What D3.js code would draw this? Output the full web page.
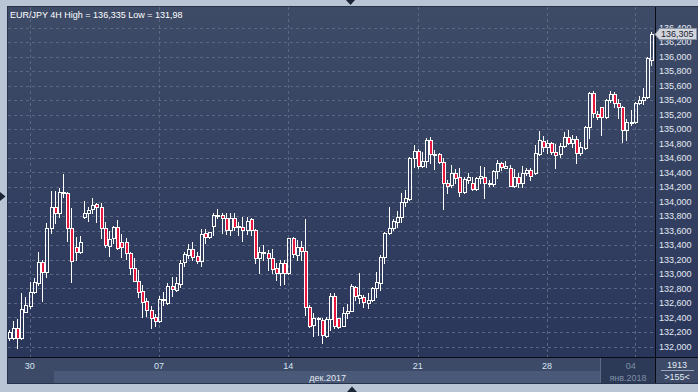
<!DOCTYPE html>
<html><head><meta charset="utf-8">
<script src="https://cdn.jsdelivr.net/npm/d3@7"></script>
<style>html,body{margin:0;padding:0;background:#b9c4d4;overflow:hidden}svg{display:block}</style>
</head><body><svg id="c" width="698" height="392"></svg>
<script>
// ---- data (EUR/JPY 4H candles) ----
const opens = [132.113,132.117,132.251,132.113,132.480,132.562,132.747,132.876,133.165,133.027,
133.634,133.928,133.845,134.113,134.113,133.630,133.368,133.299,133.790,133.837,
133.892,133.965,133.928,133.638,133.386,133.492,133.648,133.437,133.437,133.285,
133.078,132.907,132.765,132.627,132.503,132.411,132.351,132.641,132.596,132.838,
132.779,132.862,133.161,133.262,133.340,133.248,133.183,133.569,133.506,133.666,
133.804,133.813,133.768,133.607,133.768,133.652,133.652,133.607,133.758,133.607,
133.216,133.293,133.293,133.225,133.078,133.018,133.147,133.018,133.492,133.262,
133.376,133.317,132.549,132.296,132.383,132.365,132.145,132.375,132.696,132.389,
132.287,132.458,132.493,132.816,132.673,132.687,132.604,132.641,132.802,132.871,
133.238,133.561,133.630,133.721,133.782,134.000,134.034,134.596,134.700,134.493,
134.562,134.848,134.648,134.655,134.540,134.251,134.227,134.397,134.333,134.127,
134.296,134.259,134.168,134.320,134.342,134.251,134.237,134.420,134.527,134.466,
134.458,134.218,134.333,134.259,134.397,134.434,134.389,134.655,134.834,134.747,
134.802,134.687,134.651,134.765,134.885,134.811,134.858,134.673,134.733,135.023,
135.492,135.207,135.299,135.161,135.400,135.482,135.362,135.299,134.986,135.096,
135.100,135.354,135.400,135.437,135.952];
const highs = [132.227,132.351,132.379,132.738,132.687,132.889,132.945,133.307,133.193,133.703,
134.145,134.145,134.186,134.379,134.127,133.906,133.514,133.524,134.002,133.928,
134.044,133.983,133.975,133.713,133.593,133.666,133.745,133.551,133.492,133.303,
133.216,133.055,132.848,132.665,132.562,132.452,132.696,132.747,132.871,132.954,
132.962,133.193,133.307,133.409,133.445,133.307,133.616,133.616,133.583,133.837,
133.892,133.845,133.837,133.845,133.845,133.721,133.790,133.790,133.776,133.616,
133.376,133.400,133.331,133.340,133.156,133.193,133.193,133.500,133.506,133.469,
133.459,133.754,132.572,132.458,132.411,132.389,132.411,132.733,132.733,132.393,
132.549,132.586,132.862,132.834,133.018,132.710,132.742,132.825,133.027,133.262,
133.583,133.924,133.754,133.873,134.117,134.158,134.618,134.779,134.720,134.687,
134.871,134.885,134.710,134.673,134.596,134.296,134.503,134.444,134.458,134.333,
134.397,134.333,134.338,134.489,134.471,134.300,134.434,134.572,134.549,134.562,
134.503,134.444,134.389,134.489,134.458,134.458,134.779,134.976,134.903,134.848,
134.825,134.789,134.802,134.962,134.986,134.917,134.903,134.825,135.041,135.514,
135.524,135.252,135.307,135.409,135.528,135.514,135.409,135.317,135.133,135.262,
135.376,135.455,135.561,135.997,136.335];
const lows = [132.089,132.103,131.980,132.105,132.476,132.531,132.738,132.848,132.631,132.958,
133.569,133.703,133.790,134.058,133.459,132.893,133.193,133.289,133.768,133.735,
133.837,133.713,133.492,133.376,133.252,133.423,133.345,133.230,133.207,132.996,
132.903,132.687,132.411,132.420,132.251,132.287,132.338,132.572,132.582,132.696,
132.765,132.816,133.110,133.216,133.193,133.147,133.110,133.431,133.492,133.538,
133.768,133.561,133.551,133.538,133.607,133.538,133.459,133.551,133.538,133.156,
133.009,133.193,133.055,133.018,132.917,132.848,132.862,133.000,133.230,133.193,
133.193,132.434,132.273,132.149,132.158,132.044,132.127,132.227,132.251,132.262,
132.280,132.389,132.489,132.641,132.596,132.549,132.527,132.634,132.687,132.779,
133.156,133.551,133.607,133.652,133.717,133.938,134.020,134.480,134.458,134.480,
134.480,134.527,134.444,134.527,133.892,134.121,134.204,134.251,134.076,134.121,
134.259,134.158,134.158,134.251,134.044,134.220,134.210,134.320,134.434,134.458,
134.210,134.204,134.204,134.204,134.365,134.296,134.379,134.641,134.700,134.665,
134.655,134.458,134.618,134.747,134.793,134.747,134.535,134.641,134.720,134.871,
135.161,135.133,134.917,135.147,135.376,135.307,135.147,134.825,134.848,135.055,
135.087,135.345,135.345,135.427,135.882];
const closes = [132.204,132.255,132.113,132.513,132.572,132.747,132.889,133.165,133.027,133.634,
133.924,133.845,134.135,134.131,133.630,133.179,133.299,133.437,133.837,133.882,
133.951,133.928,133.638,133.400,133.478,133.648,133.354,133.368,133.285,133.078,
132.907,132.756,132.618,132.499,132.397,132.356,132.655,132.655,132.838,132.789,
132.871,133.156,133.276,133.340,133.230,133.183,133.547,133.506,133.575,133.813,
133.813,133.768,133.607,133.776,133.652,133.662,133.607,133.735,133.607,133.216,
133.307,133.299,133.216,133.065,133.018,133.147,133.018,133.492,133.276,133.376,
133.317,132.549,132.287,132.389,132.393,132.158,132.375,132.696,132.287,132.265,
132.458,132.493,132.834,132.700,132.710,132.618,132.641,132.811,132.885,133.238,
133.561,133.630,133.735,133.782,134.000,134.044,134.596,134.700,134.493,134.554,
134.848,134.655,134.655,134.540,134.251,134.220,134.397,134.320,134.135,134.306,
134.333,134.168,134.328,134.351,134.251,134.260,134.420,134.535,134.480,134.489,
134.218,134.333,134.251,134.397,134.434,134.356,134.665,134.848,134.747,134.802,
134.687,134.641,134.765,134.885,134.811,134.858,134.673,134.747,135.023,135.492,
135.216,135.161,135.161,135.400,135.482,135.362,135.299,134.986,135.100,135.100,
135.362,135.400,135.445,135.975,136.305];

const priceTicks = [132.0,132.2,132.4,132.6,132.8,133.0,133.2,133.4,133.6,133.8,134.0,134.2,
  134.4,134.6,134.8,135.0,135.2,135.4,135.6,135.8,136.0,136.2,136.4];
const dateLabels = ["30","07","14","21","28","04"];
const dateBarIndex = [5,36,67,98,129,150];
const monthLabels = ["дек.2017","янв.2018"];
const titleText = "EUR/JPY 4H High = 136,335 Low = 131,98";
const lastPrice = 136.305;
const cornerTop = "1913", cornerBottom = ">155<";

// ---- drawing ----
const svg = d3.select("#c");
const FONT = "'Liberation Sans', Arial, sans-serif";
const fmt = v => d3.format(".3f")(v).replace(".", ",");
const n = opens.length;
const plot = {l: 8, r: 655, t: 7, b: 357};

const x = d3.scaleLinear().domain([0, n - 1]).range([8.8, 651.4]);
const y = d3.scaleLinear().domain([132, 136.4]).range([346.5, 27.5]);

const defs = svg.append("defs");
const g1 = defs.append("linearGradient").attr("id", "bg").attr("x1", 0).attr("x2", 0).attr("y1", 0).attr("y2", 1);
g1.append("stop").attr("offset", "0%").attr("stop-color", "#3e4b67");
g1.append("stop").attr("offset", "100%").attr("stop-color", "#28355a");

// outer frame
svg.append("rect").attr("width", 698).attr("height", 392).attr("fill", "#b9c4d4");
svg.append("rect").attr("x", 7).attr("y", 6).attr("width", 691).attr("height", 378).attr("fill", "url(#bg)");

// bottom axis area
svg.append("rect").attr("x", 7).attr("y", 358).attr("width", 648).attr("height", 26).attr("fill", "#3c4a68");
svg.append("rect").attr("x", 54).attr("y", 371).attr("width", 547).attr("height", 13).attr("fill", "#4a5977");
svg.append("rect").attr("x", 601).attr("y", 358).attr("width", 54).attr("height", 26).attr("fill", "#2d3a57");
svg.append("line").attr("x1", 600.5).attr("x2", 600.5).attr("y1", 358).attr("y2", 384).attr("stroke", "#5f6b82");
svg.append("rect").attr("x", 656).attr("y", 358).attr("width", 42).attr("height", 26).attr("fill", "#3c4a68");

// grid
const grid = svg.append("g").attr("shape-rendering", "crispEdges")
  .attr("stroke", "#5a6783").attr("stroke-dasharray", "3,3");
grid.selectAll("line.h").data(priceTicks).join("line")
  .attr("x1", plot.l).attr("x2", plot.r)
  .attr("y1", d => Math.round(y(d)) + 0.5).attr("y2", d => Math.round(y(d)) + 0.5);
grid.selectAll("line.v").data(dateBarIndex).enter().append("line")
  .attr("x1", d => Math.round(x(d)) + 0.5).attr("x2", d => Math.round(x(d)) + 0.5)
  .attr("y1", plot.t).attr("y2", plot.b);

// separators
svg.append("line").attr("x1", 655.5).attr("x2", 655.5).attr("y1", 6).attr("y2", 384).attr("stroke", "#080c14");
svg.append("line").attr("x1", 7).attr("x2", 698).attr("y1", 357.5).attr("y2", 357.5).attr("stroke", "#080c14");
svg.append("rect").attr("x", 7.5).attr("y", 6.5).attr("width", 691).attr("height", 377)
  .attr("fill", "none").attr("stroke", "#26314a");

// candles
const data = opens.map((o, i) => ({o, h: highs[i], l: lows[i], c: closes[i], i}));
const cg = svg.append("g").attr("shape-rendering", "crispEdges");
data.forEach(d => {
  const cx = Math.round(x(d.i));
  const top = Math.round(y(Math.max(d.o, d.c)));
  const bot = Math.round(y(Math.min(d.o, d.c)));
  const hi = Math.round(y(d.h)), lo = Math.round(y(d.l));
  const up = d.c >= d.o;
  if (hi < top) cg.append("line").attr("x1", cx + 0.5).attr("x2", cx + 0.5).attr("y1", hi).attr("y2", top).attr("stroke", "#fff");
  if (lo > bot) cg.append("line").attr("x1", cx + 0.5).attr("x2", cx + 0.5).attr("y1", bot).attr("y2", lo + 1).attr("stroke", "#fff");
  cg.append("rect").attr("x", cx - 0.5).attr("y", top + 0.5).attr("width", 3)
    .attr("height", Math.max(bot - top, 1))
    .attr("fill", up ? "none" : "#e8173e").attr("stroke", "#fff").attr("stroke-width", 1);
});

// right axis labels
svg.append("g").selectAll("text").data(priceTicks).join("text")
  .attr("x", 659).attr("y", d => y(d) + 3.2)
  .attr("font-family", FONT).attr("font-size", 9).attr("fill", "#e3eaf4")
  .text(d => fmt(d));

// last price marker
svg.append("path").attr("d", `M655,${Math.round(y(lastPrice)) + 0.5} L659.5,28.5 H696.5 V39.5 H659.5 Z`)
  .attr("fill", "#d2d6dc").attr("stroke", "#8b94a4");
svg.append("text").attr("x", 661).attr("y", y(lastPrice) + 3)
  .attr("font-family", FONT).attr("font-size", 9).attr("fill", "#1a2233").text(fmt(lastPrice));

// date labels
svg.append("g").selectAll("text").data(dateLabels).join("text")
  .attr("x", (d, i) => i === dateLabels.length - 1 ? x(dateBarIndex[i]) - 4 : x(dateBarIndex[i]))
  .attr("y", 369).attr("text-anchor", "middle")
  .attr("font-family", FONT).attr("font-size", 9)
  .attr("fill", (d, i) => i === dateLabels.length - 1 ? "#7f8ea8" : "#d6e4f5")
  .text(d => d);
svg.append("text").attr("x", 346).attr("y", 381).attr("text-anchor", "end")
  .attr("font-family", FONT).attr("font-size", 9).attr("fill", "#e3eaf4").text(monthLabels[0]);
svg.append("text").attr("x", 628).attr("y", 381).attr("text-anchor", "middle")
  .attr("font-family", FONT).attr("font-size", 9).attr("fill", "#7f8ea8").text(monthLabels[1]);

// corner box
svg.append("text").attr("x", 677).attr("y", 368).attr("text-anchor", "middle")
  .attr("font-family", FONT).attr("font-size", 9).attr("fill", "#e3eaf4").text(cornerTop);
svg.append("line").attr("x1", 661).attr("x2", 694).attr("y1", 370.5).attr("y2", 370.5).attr("stroke", "#9aa6ba");
svg.append("text").attr("x", 677).attr("y", 380).attr("text-anchor", "middle")
  .attr("font-family", FONT).attr("font-size", 9).attr("fill", "#e3eaf4").text(cornerBottom);

// title
svg.append("text").attr("x", 10).attr("y", 18)
  .attr("font-family", FONT).attr("font-size", 9).attr("fill", "#ffffff").text(titleText);

// small navigation triangles
svg.append("path").attr("d", "M346,0 L355,0 L350.5,5 Z").attr("fill", "#1c2536");
svg.append("path").attr("d", "M347,392 L357,392 L352,386.5 Z").attr("fill", "#1c2536");
svg.append("path").attr("d", "M0,192 L0,201 L5.5,196.5 Z").attr("fill", "#1c2536");
</script>
</body></html>
